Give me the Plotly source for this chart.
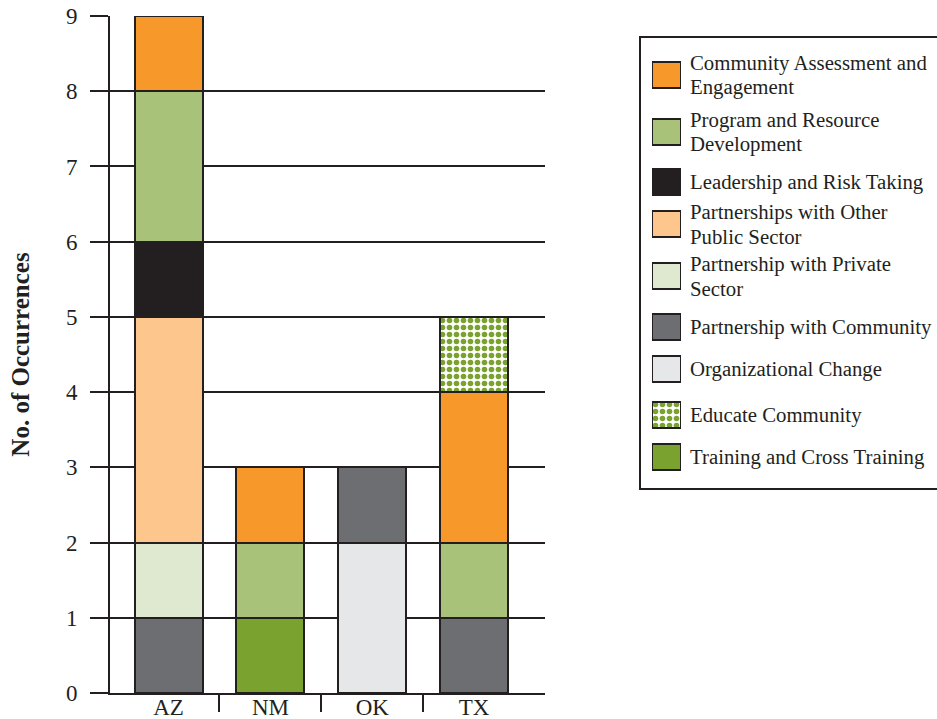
import plotly.graph_objects as go

# ---------------- data ----------------
states = ["AZ", "NM", "OK", "TX"]

series_names = [
    "Training and Cross Training",
    "Organizational Change",
    "Partnership with Community",
    "Partnership with Private Sector",
    "Partnerships with Other Public Sector",
    "Leadership and Risk Taking",
    "Program and Resource Development",
    "Community Assessment and Engagement",
    "Educate Community",
]
training = [0, 1, 0, 0]
org_change = [0, 0, 2, 0]
partner_community = [1, 0, 1, 1]
partner_private = [1, 0, 0, 0]
partner_public = [3, 0, 0, 0]
leadership = [1, 0, 0, 0]
program_dev = [2, 1, 0, 1]
community_assess = [1, 1, 0, 2]
educate = [0, 0, 0, 1]
series_values = [training, org_change, partner_community, partner_private,
                 partner_public, leadership, program_dev, community_assess, educate]

y_ticks = [0, 1, 2, 3, 4, 5, 6, 7, 8, 9]

# ---------------- styles ----------------
INK = "#231F20"
FONT = "Liberation Serif"
colors = {
    "Training and Cross Training": "#7AA22F",
    "Organizational Change": "#E6E7E8",
    "Partnership with Community": "#6D6E71",
    "Partnership with Private Sector": "#DFE9CF",
    "Partnerships with Other Public Sector": "#FDC68C",
    "Leadership and Risk Taking": "#231F20",
    "Program and Resource Development": "#A8C27A",
    "Community Assessment and Engagement": "#F7982A",
    "Educate Community": "#FFFFFF",
}
patterns = {"Educate Community": (".", "#7BA12F")}

legend_order = [
    ("Community Assessment and Engagement", ["Community Assessment and", "Engagement"]),
    ("Program and Resource Development", ["Program and Resource", "Development"]),
    ("Leadership and Risk Taking", ["Leadership and Risk Taking"]),
    ("Partnerships with Other Public Sector", ["Partnerships with Other", "Public Sector"]),
    ("Partnership with Private Sector", ["Partnership with Private", "Sector"]),
    ("Partnership with Community", ["Partnership with Community"]),
    ("Organizational Change", ["Organizational Change"]),
    ("Educate Community", ["Educate Community"]),
    ("Training and Cross Training", ["Training and Cross Training"]),
]

# ---------------- layout (pixels of the 937x719 window) ----------------
W, H = 937, 719
AX_LEFT, AX_RIGHT, AX_TOP, AX_BOTTOM = 110, 545, 16, 693
ML, MT, MR = AX_LEFT, AX_TOP, 0
MB = H - AX_BOTTOM
plot_w = W - ML - MR
plot_h = H - MT - MB

LEG_BOX = (640, 37, 489)       # left, top, bottom
LEG_SW_X = (652, 681)
LEG_TEXT_X = 688
legend_rows_px = [75, 132, 182, 224, 276, 327, 369, 415, 457]
LINE_GAP = 24


def px_to_paper_x(px):
    return (px - ML) / plot_w


def pattern_for(name):
    if name in patterns:
        shp, fg = patterns[name]
        return dict(shape=shp, fgcolor=fg, bgcolor="#FFFFFF",
                    size=7, solidity=0.5, fillmode="replace")
    return None


fig = go.Figure()

xpos = list(range(len(states)))
for name, vals in zip(series_names, series_values):
    yv = [v if v else None for v in vals]
    marker = dict(color=colors[name], line=dict(color=INK, width=2))
    p = pattern_for(name)
    if p:
        marker["pattern"] = p
    fig.add_trace(go.Bar(x=xpos, y=yv, name=name, marker=marker,
                         width=0.668, showlegend=False, hoverinfo="x+y+name"))

# custom legend swatches drawn as bars on a hidden axis (y2 in window pixels)
for (name, _), yy in zip(legend_order, legend_rows_px):
    marker = dict(color=colors[name], line=dict(color=INK, width=2))
    p = pattern_for(name)
    if p:
        marker["pattern"] = p
    fig.add_trace(go.Bar(
        x=[1], y=[yy], base=0, orientation="h", width=26, marker=marker,
        xaxis="x2", yaxis="y2", showlegend=False, hoverinfo="skip",
    ))

annotations = []
for (n, lines), yy in zip(legend_order, legend_rows_px):
    k = len(lines)
    for i, line in enumerate(lines):
        annotations.append(dict(
            x=px_to_paper_x(LEG_TEXT_X), xref="paper",
            y=yy + (i - (k - 1) / 2) * LINE_GAP, yref="y2",
            text=line, showarrow=False, xanchor="left", yanchor="middle",
            align="left", font=dict(family=FONT, size=20.8, color=INK),
        ))

shapes = [dict(type="rect", xref="paper", yref="y2",
               x0=px_to_paper_x(LEG_BOX[0]), x1=1.01, y0=LEG_BOX[1], y1=LEG_BOX[2],
               line=dict(color=INK, width=2), fillcolor="rgba(0,0,0,0)", layer="below")]

fig.update_layout(
    width=W, height=H,
    margin=dict(l=ML, r=MR, t=MT, b=MB, pad=0, autoexpand=False),
    paper_bgcolor="white", plot_bgcolor="white",
    barmode="stack",
    font=dict(family=FONT, color=INK),
    annotations=annotations,
    shapes=shapes,
    xaxis=dict(
        domain=[0, px_to_paper_x(AX_RIGHT)],
        range=[-0.575, 3.696],
        tickvals=xpos, ticktext=states,
        ticks="", showgrid=False, zeroline=False,
        showline=True, linecolor=INK, linewidth=2,
        tickfont=dict(family=FONT, size=23, color=INK),
        ticklabelstandoff=-8, ticklabeloverflow="allow",
        minor=dict(tickvals=[0.5, 1.5, 2.5], ticks="outside", ticklen=17,
                   tickwidth=2, tickcolor=INK, showgrid=False),
        automargin=False, fixedrange=True,
    ),
    yaxis=dict(
        range=[0, 9], tickvals=y_ticks,
        showgrid=True, gridcolor=INK, gridwidth=2,
        zeroline=False,
        showline=True, linecolor=INK, linewidth=2,
        ticks="outside", ticklen=18, tickwidth=2, tickcolor=INK,
        ticklabelstandoff=8, ticklabeloverflow="allow",
        tickfont=dict(family=FONT, size=23, color=INK),
        title=dict(text="<b>No. of Occurrences</b>", standoff=29,
                   font=dict(family=FONT, size=25, color=INK)),
        automargin=False, fixedrange=True,
    ),
    xaxis2=dict(domain=[px_to_paper_x(LEG_SW_X[0]), px_to_paper_x(LEG_SW_X[1])],
                range=[0, 1], visible=False, anchor="y2", fixedrange=True),
    yaxis2=dict(domain=[0, 1], range=[AX_BOTTOM, AX_TOP], visible=False,
                anchor="x2", fixedrange=True),
)

# remove the browser's default 8px body margin so the figure fills the window
fig.write_html("out.html",
               config={"displayModeBar": False},
               post_script="document.body.style.margin='0';"
                           "document.body.style.overflow='hidden';")
